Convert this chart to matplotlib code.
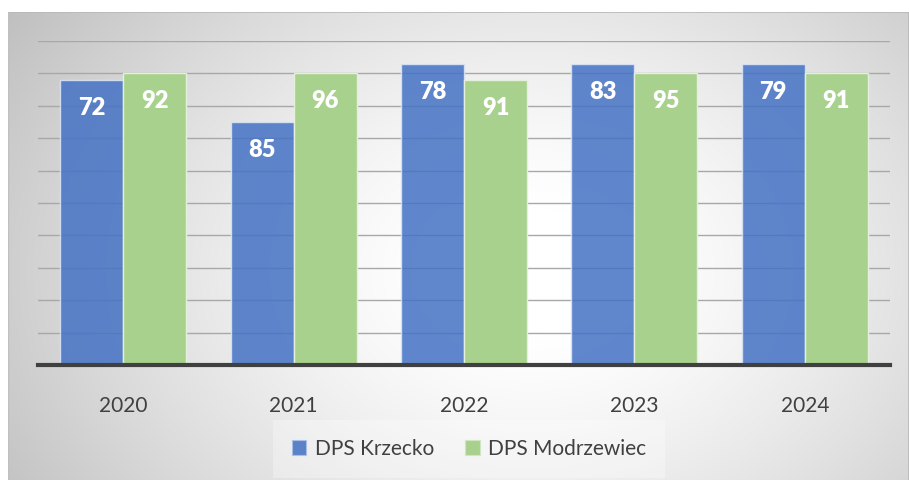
import numpy as np
import matplotlib
matplotlib.use("Agg")
import matplotlib.pyplot as plt
from matplotlib.patches import Patch

plt.rcParams['font.family'] = ['Lato', 'DejaVu Sans']

years = ["2020", "2021", "2022", "2023", "2024"]
series_names = ["DPS Krzecko", "DPS Modrzewiec"]
# bar heights as drawn (on a 0-100 scale with gridlines every 10)
krzecko_heights = [88, 75, 93, 93, 93]
modrzewiec_heights = [90, 90, 88, 90, 90]
# data labels printed on the bars
krzecko_labels = ["72", "85", "78", "83", "79"]
modrzewiec_labels = ["92", "96", "91", "95", "91"]

W, H = 909, 480
fig = plt.figure(figsize=(W / 100, H / 100), dpi=100)
fig.patch.set_facecolor("white")

# background panel with radial gradient
bx0, by_top = 8, 12
bg = fig.add_axes([bx0 / W, 0, (W - bx0) / W, (H - by_top) / H])
bg.set_axis_off()
ny, nx = 240, 450
yy, xx = np.mgrid[0:ny, 0:nx]
cx, cy = nx * 0.58, ny * 0.55
r = np.sqrt(((xx - cx) / (nx * 0.62)) ** 2 + ((yy - cy) / (ny * 0.9)) ** 2)
val = 1.0 - 0.26 * np.clip(r - 0.15, 0, None) ** 1.3
val = np.clip(val, 0.75, 1.0)
img = np.dstack([val, val, val])
bg.imshow(img, aspect="auto", extent=[0, 1, 0, 1], interpolation="bilinear")
bg.set_xlim(0, 1); bg.set_ylim(0, 1)
bg.plot([0, 1, 1], [1, 1, 0], color="#b8b8b8", lw=1.2, transform=bg.transAxes)
bg.plot([0, 0], [0, 1], color="#c0c0c0", lw=1.0, transform=bg.transAxes)

# main axes
left, right = 38, 890
top, base = 41, 365
ax = fig.add_axes([left / W, (H - base) / H, (right - left) / W, (base - top) / H])
ax.patch.set_alpha(0)
x = np.arange(len(years))
w = 0.37
ax.set_xlim(-0.5, len(years) - 0.5)
ax.set_ylim(0, 100)
ax.set_yticks(np.arange(0, 101, 10))
ax.yaxis.grid(True, color="#a8a8a8", lw=1.0)
ax.set_axisbelow(True)
for s in ["top", "right", "left"]:
    ax.spines[s].set_visible(False)
ax.spines["bottom"].set_color("#404040")
ax.spines["bottom"].set_linewidth(3)
ax.spines["bottom"].set_zorder(5)
ax.tick_params(axis="y", length=0, labelleft=False)
ax.tick_params(axis="x", length=0, pad=22, labelsize=15, labelcolor="#404040")
ax.set_xticks(x)
ax.set_xticklabels(years)

b1 = ax.bar(x - w / 2, krzecko_heights, w, color="#4472C4", alpha=0.85,
            edgecolor="#dce6f5", linewidth=1.0, zorder=3)
b2 = ax.bar(x + w / 2, modrzewiec_heights, w, color="#A9D18E", alpha=1.0,
            edgecolor="#e4f0dc", linewidth=1.0, zorder=3)

for bars, labels in ((b1, krzecko_labels), (b2, modrzewiec_labels)):
    for rect, lab in zip(bars, labels):
        ax.annotate(lab, (rect.get_x() + rect.get_width() / 2, rect.get_height()),
                    xytext=(0, -28), textcoords="offset pixels",
                    ha="center", va="center", color="white",
                    fontsize=17, fontweight="heavy", zorder=6)

handles = [Patch(facecolor="#5b82c8", edgecolor="#a9bfe6", lw=0.8),
           Patch(facecolor="#A9D18E", edgecolor="#d0e6c2", lw=0.8)]
leg = fig.legend(handles, series_names, loc="center",
                 bbox_to_anchor=(469 / W, 1 - 449 / H), ncol=2, frameon=True,
                 fontsize=15, handlelength=0.7, handleheight=0.7,
                 handletextpad=0.4, columnspacing=1.5, borderpad=0.9)
leg.get_frame().set_facecolor("white")
leg.get_frame().set_alpha(0.3)
leg.get_frame().set_edgecolor("none")
leg.get_frame().set_boxstyle("square", pad=0)
for t in leg.get_texts():
    t.set_color("#404040")

fig.savefig("out.png", dpi=100)
